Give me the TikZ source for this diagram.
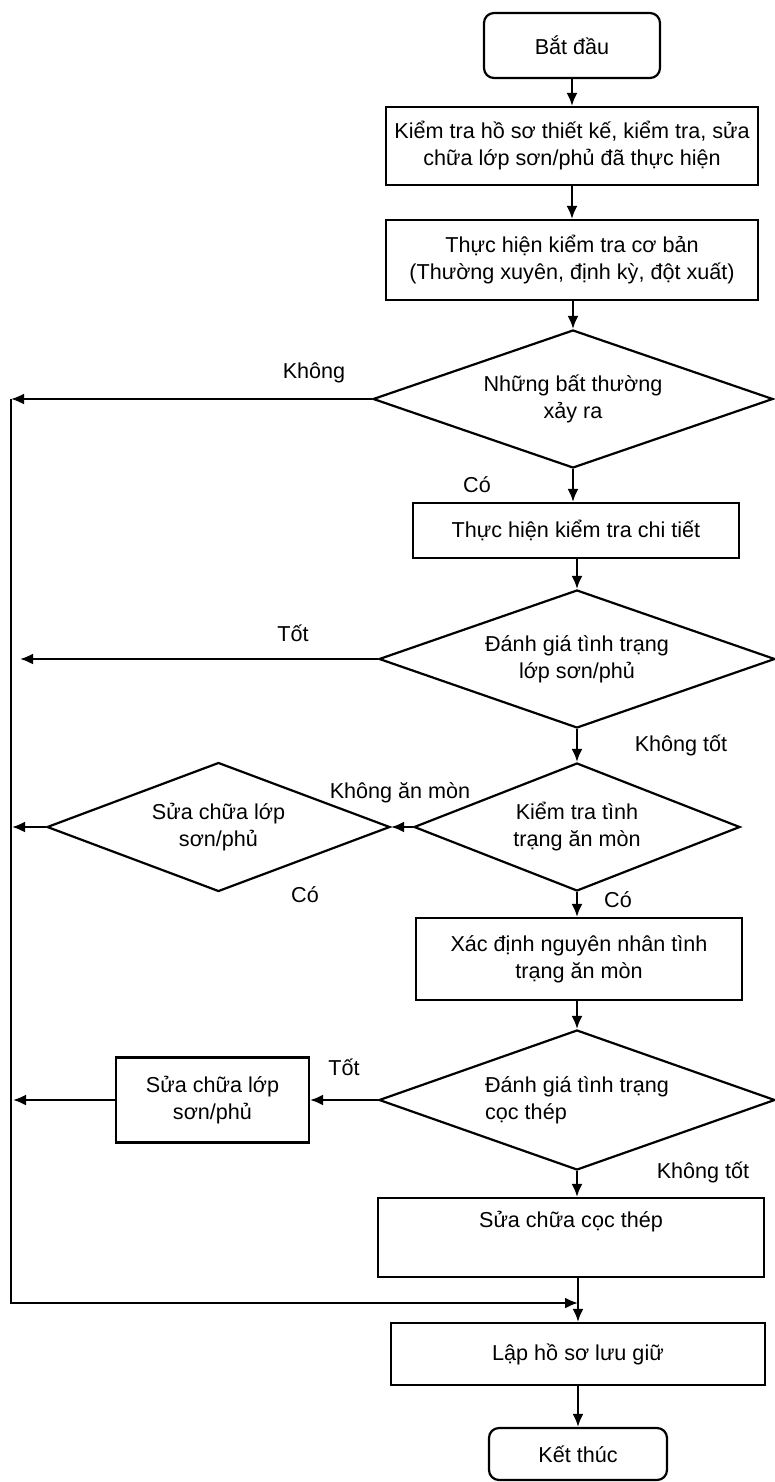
\documentclass[tikz,border=0pt]{standalone}
\usepackage{fontspec}
\setmainfont{Liberation Sans}
\usetikzlibrary{shapes.geometric,arrows.meta}
\begin{document}
\begin{tikzpicture}[x=0.5pt,y=-0.5pt,
  every node/.style={font=\fontsize{10.8}{13.5}\selectfont},
  line/.style={line width=1.1pt},
  arr/.style={line width=1.1pt,-{Latex[length=6.5pt,width=5.5pt]}},
  box/.style={draw,line width=1.1pt,rectangle,align=center,inner sep=2pt},
  term/.style={box,rounded corners=5pt},
  dec/.style={draw,line width=1.1pt,diamond,aspect=2.9,inner sep=0pt,align=center},
  lbl/.style={inner sep=1pt}]
\useasboundingbox (0,0) rectangle (775,1482);

% main column
\node[term,minimum width=88pt,minimum height=32.5pt] (nstart) at (572,45.5) {Bắt đầu};
\node[box,minimum width=186pt,minimum height=39pt] (b1) at (572,146) {Kiểm tra hồ sơ thiết kế, kiểm tra, sửa\\chữa lớp sơn/phủ đã thực hiện};
\node[box,minimum width=186pt,minimum height=40pt] (b2) at (572,260) {Thực hiện kiểm tra cơ bản\\(Thường xuyên, định kỳ, đột xuất)};
\node[dec,minimum width=200pt,minimum height=69pt] (d1) at (573,399) {Những bất thường\\xảy ra};
\node[box,minimum width=163pt,minimum height=27.5pt] (b3) at (576,530.5) {Thực hiện kiểm tra chi tiết};
\node[dec,minimum width=198pt,minimum height=69pt] (d2) at (577,659) {Đánh giá tình trạng\\lớp sơn/phủ};
\node[dec,minimum width=163pt,minimum height=64pt] (d3) at (577,827) {Kiểm tra tình\\trạng ăn mòn};
\node[dec,minimum width=171.5pt,minimum height=64.5pt] (d4) at (218.5,827) {Sửa chữa lớp\\sơn/phủ};
\node[box,minimum width=163pt,minimum height=41pt] (b4) at (579,959) {Xác định nguyên nhân tình\\trạng ăn mòn};
\node[dec,minimum width=198pt,minimum height=70pt,align=left] (d5) at (577,1100) {Đánh giá tình trạng\\cọc thép};
\node[box,minimum width=96.5pt,minimum height=42.5pt] (b5) at (212.5,1100) {Sửa chữa lớp\\sơn/phủ};
\node[box,minimum width=193pt,minimum height=39.5pt,text height=8pt,text depth=18pt] (b6) at (571,1237.5) {Sửa chữa cọc thép};
\node[box,minimum width=187pt,minimum height=31pt] (b7) at (578,1354) {Lập hồ sơ lưu giữ};
\node[term,minimum width=89pt,minimum height=26pt] (nstop) at (578,1454) {Kết thúc};

% free ends
\coordinate (L1) at (11,399);
\coordinate (L2) at (11,1303);
\coordinate (t2) at (20,659);
\coordinate (t4) at (12,827);
\coordinate (t5) at (13,1100);

% vertical flow
\draw[arr] (nstart.south) -- (nstart.south |- b1.north);
\draw[arr] (b1.south) -- (b1.south |- b2.north);
\draw[arr] (d1.north |- b2.south) -- (d1.north);
\draw[arr] (d1.south) -- (d1.south |- b3.north);
\draw[arr] (d2.north |- b3.south) -- (d2.north);
\draw[arr] (d2.south) -- (d3.north);
\draw[arr] (d3.south) -- (d3.south |- b4.north);
\draw[arr] (d5.north |- b4.south) -- (d5.north);
\draw[arr] (d5.south) -- (d5.south |- b6.north);
\draw[arr] (b7.north |- b6.south) -- (b7.north);
\draw[arr] (b7.south) -- (b7.south |- nstop.north);

% side branches
\draw[arr] (d1.west) -- (L1);
\draw[arr] (L1) -- (L2) -- (L2 -| b7.north);
\draw[arr] (d2.west) -- (t2);
\draw[arr] (d3.west) -- (d4.east);
\draw[arr] (d4.west) -- (t4);
\draw[arr] (d5.west) -- (b5.east);
\draw[arr] (b5.west) -- (t5);

% labels
\node[lbl] (lk1) at (314,373) {Không};
\node[lbl] (lc1) at (477,485) {Có};
\node[lbl] (lt1) at (293,633) {Tốt};
\node[lbl] (lkt1) at (681,745) {Không tốt};
\node[lbl] (lkam) at (400,793) {Không ăn mòn};
\node[lbl] (lc2) at (305,895) {Có};
\node[lbl] (lc3) at (618,900) {Có};
\node[lbl] (lt2) at (344,1067) {Tốt};
\node[lbl] (lkt2) at (703,1172) {Không tốt};
\end{tikzpicture}
\end{document}
